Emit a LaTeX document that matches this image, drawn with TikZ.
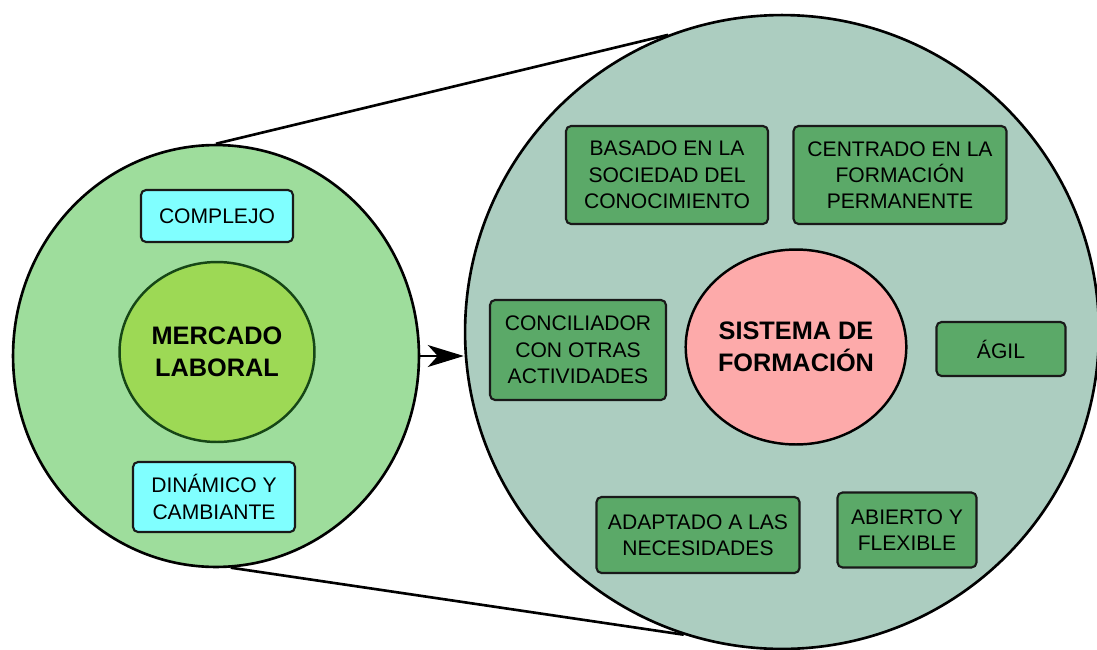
\documentclass[tikz,border=0pt]{standalone}
\usepackage{fontspec}
\setmainfont{Liberation Sans}
\usetikzlibrary{shapes.geometric,arrows.meta}
\definecolor{verdeclaro}{RGB}{158,221,156}
\definecolor{verdelima}{RGB}{157,217,85}
\definecolor{verdeoscuro}{RGB}{22,70,22}
\definecolor{cian}{RGB}{128,255,255}
\definecolor{salvia}{RGB}{172,205,192}
\definecolor{verdecaja}{RGB}{91,169,104}
\definecolor{rosa}{RGB}{253,170,170}

\begin{document}
\begin{tikzpicture}[x=0.02cm,y=-0.02cm,
                zona/.style={ellipse,draw,line width=1.5pt,inner sep=0pt},
                nucleo/.style={ellipse,draw,line width=1.4pt,inner sep=0pt,align=center,
                    font=\fontsize{14.4}{18}\selectfont\bfseries},
                rasgo/.style={draw=black!90,line width=1.2pt,rounded corners=0.1cm,inner sep=0pt,
                    align=center,font=\fontsize{12}{15}\selectfont}
            ]
                \useasboundingbox (0,0) rectangle (1097,649);
                \node[zona,fill=verdeclaro,minimum width=8.12cm,minimum height=8.44cm] (mercado) at (216,356) {};
                \node[zona,fill=salvia,minimum width=12.68cm,minimum height=12.68cm] (sistema) at (782,332) {};
                \draw[line width=1.5pt] (mercado.90) -- (sistema.111);
                \draw[line width=1.5pt] (mercado.-86) -- (sistema.-108);
                \draw[line width=1.1pt,-{Stealth[length=0.72cm,width=0.44cm,inset=0.2cm]}]
                    (mercado.east) -- (mercado.east -| sistema.west);
                \node[nucleo,fill=verdelima,draw=verdeoscuro,minimum width=3.9cm,minimum height=3.6cm] (lab) at (217,352) {MERCADO\\LABORAL};
                \node[rasgo,fill=cian,minimum width=3.04cm,minimum height=1.04cm] (compl) at (217,216) {COMPLEJO};
                \node[rasgo,fill=cian,minimum width=3.24cm,minimum height=1.4cm] (dinam) at (214,497) {DINÁMICO Y\\CAMBIANTE};
                \node[nucleo,fill=rosa,minimum width=4.08cm,minimum height=3.9cm] (form) at (796,347) {SISTEMA DE\\FORMACIÓN};
                \node[rasgo,fill=verdecaja,minimum width=4.04cm,minimum height=1.96cm] (basado) at (667,175) {BASADO EN LA\\SOCIEDAD DEL\\CONOCIMIENTO};
                \node[rasgo,fill=verdecaja,minimum width=4.26cm,minimum height=1.96cm] (centrado) at (900,175) {CENTRADO EN LA\\FORMACIÓN\\PERMANENTE};
                \node[rasgo,fill=verdecaja,minimum width=3.52cm,minimum height=2cm] (concil) at (578,350) {CONCILIADOR\\CON OTRAS\\ACTIVIDADES};
                \node[rasgo,fill=verdecaja,minimum width=2.58cm,minimum height=1.08cm] (agil) at (1001,349) {ÁGIL};
                \node[rasgo,fill=verdecaja,minimum width=4.06cm,minimum height=1.52cm] (adapt) at (698,535) {ADAPTADO A LAS\\NECESIDADES};
                \node[rasgo,fill=verdecaja,minimum width=2.78cm,minimum height=1.5cm] (abierto) at (907,530) {ABIERTO Y\\FLEXIBLE};
            \end{tikzpicture}
\end{document}
